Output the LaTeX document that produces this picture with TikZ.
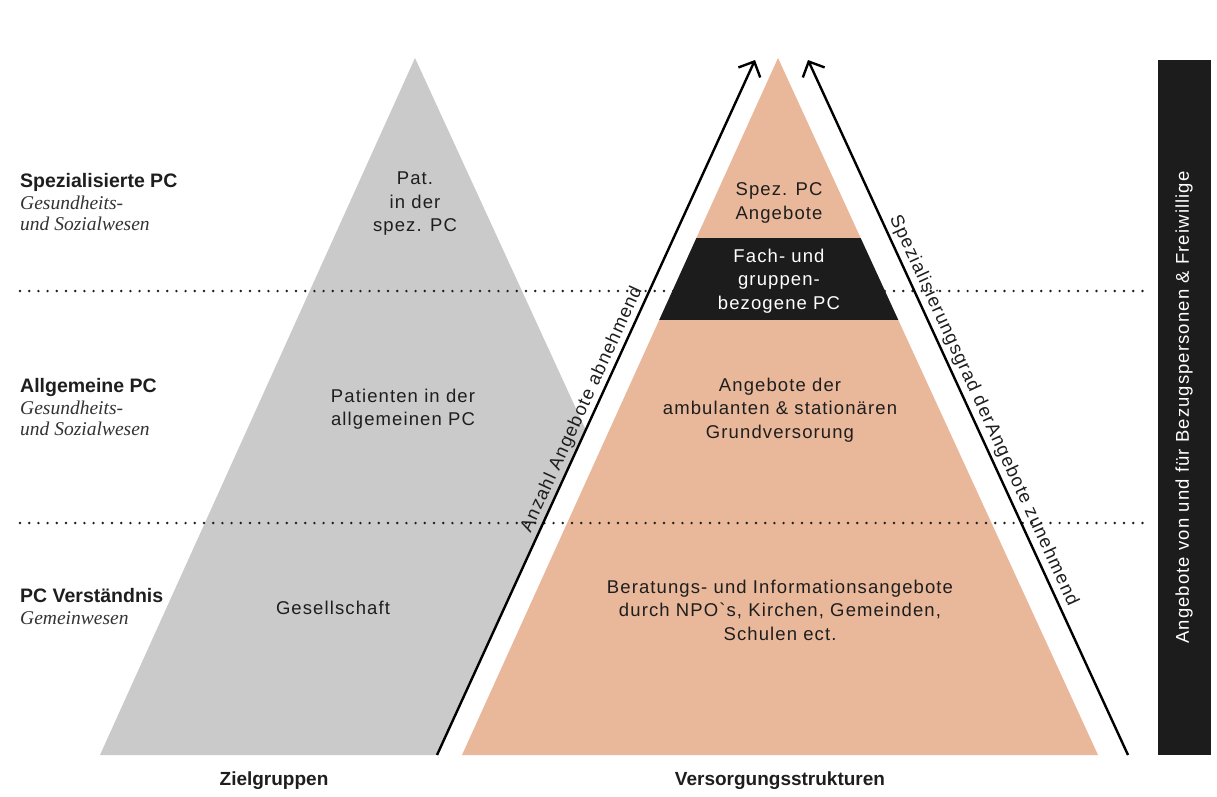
\documentclass[tikz,border=0pt]{standalone}
\usepackage{fontspec}
\setmainfont{Liberation Sans}
\newfontfamily\bodyfont[LetterSpace=6]{Liberation Sans}
\newfontfamily\labelfont{Liberation Sans}
\newfontfamily\serifit{Liberation Serif}
\usetikzlibrary{arrows.meta}
\definecolor{pyrgray}{HTML}{CACACA}
\definecolor{pyrorange}{HTML}{E9B89A}
\definecolor{bandblack}{HTML}{1C1C1C}
\definecolor{txt}{HTML}{1E1E1E}
\definecolor{ittxt}{HTML}{333333}
\tikzset{
  bodytext/.style={font=\bodyfont\fontsize{18.5}{23.5}\selectfont, align=center, inner sep=0pt, text=txt},
  bandtext/.style={bodytext, text=white},
  headlabel/.style={font=\labelfont\bfseries\fontsize{19.5}{22}\selectfont, anchor=base west, inner sep=0pt, text=txt},
  sublabel/.style={font=\serifit\itshape\fontsize{19.5}{21}\selectfont, anchor=base west, inner sep=0pt, text=ittxt},
  footlabel/.style={font=\labelfont\bfseries\fontsize{19}{22}\selectfont, anchor=base, inner sep=0pt, text=txt},
  dotline/.style={draw=txt, line width=2.7pt, line cap=round, dash pattern=on 0pt off 9.2pt},
  arrowline/.style={draw=black, line width=2.4pt, -{Straight Barb[length=12pt,width=24pt,line width=2.4pt]}},
  slopetext/.style={bodytext, sloped, above}
}
\begin{document}
\begin{tikzpicture}[x=1pt,y=-1pt]
\useasboundingbox (0,0) rectangle (1217,796);
\fill[white] (0,0) rectangle (1217,796);
% key points
\coordinate (gA) at (415,58);
\coordinate (gL) at (100,755);
\coordinate (gR) at (735,755);
\coordinate (aL1) at (437,755);
\coordinate (aL2) at (755,60);
\coordinate (aR1) at (1128,755);
\coordinate (aR2) at (808,60);
\coordinate (oA) at (778,58);
\coordinate (oL) at (462,755);
\coordinate (oR) at (1098,755);
\coordinate (gX) at (intersection of gA--gR and aL1--aL2);
% gray pyramid
\fill[pyrgray] (gL) -- (gA) -- (gX) -- (aL1) -- cycle;
% orange pyramid
\fill[pyrorange] (oL) -- (oA) -- (oR) -- cycle;
\begin{scope}
  \clip (oL) -- (oA) -- (oR) -- cycle;
  \fill[bandblack] (600,238) rectangle (960,320);
\end{scope}
% right bar
\node[fill=bandblack, minimum width=695pt, minimum height=53pt, rotate=90, inner sep=0pt,
      font=\bodyfont\fontsize{18.5}{20}\selectfont, text=white] (bar) at (1184,407.5)
      {Angebote von und für Bezugspersonen \& Freiwillige};
% dotted level lines
\draw[dotline] (20,291) -- (1150,291);
\draw[dotline] (20,523) -- (1150,523);
% arrows
\draw[arrowline] (aL1) -- (aL2);
\draw[arrowline] (aR1) -- (aR2);
\path (aL1) -- (aL2) node[slopetext, pos=0.49, inner sep=3pt] (tL) {Anzahl Angebote abnehmend};
\path (aR2) -- (aR1) node[slopetext, pos=0.512, inner sep=4pt] (tR) {Spezialisierungsgrad derAngebote zunehmend};
% left labels
\node[headlabel] (h1) at (20,187) {Spezialisierte PC};
\node[sublabel] (s1a) at (20,209) {Gesundheits-};
\node[sublabel] (s1b) at (20,230) {und Sozialwesen};
\node[headlabel] (h2) at (20,392) {Allgemeine PC};
\node[sublabel] (s2a) at (20,414) {Gesundheits-};
\node[sublabel] (s2b) at (20,435) {und Sozialwesen};
\node[headlabel] (h3) at (20,602) {PC Verständnis};
\node[sublabel] (s3a) at (20,624) {Gemeinwesen};
% gray pyramid texts
\node[bodytext] (g1) at (415,204) {Pat.\\in der\\spez. PC};
\node[bodytext] (g2) at (403,409) {Patienten in der\\allgemeinen PC};
\node[bodytext] (g3) at (333,608) {Gesellschaft};
% orange pyramid texts
\node[bodytext] (o1) at (779,203) {Spez. PC\\Angebote};
\node[bandtext] (o2) at (779,281) {Fach- und\\gruppen-\\bezogene PC};
\node[bodytext] (o3) at (780,410) {Angebote der\\ambulanten \& stationären\\Grundversorung};
\node[bodytext] (o4) at (780,610) {Beratungs- und Informationsangebote\\durch NPO{\char"60}s, Kirchen, Gemeinden,\\Schulen ect.};
% footer
\node[footlabel] (f1) at (274,785) {Zielgruppen};
\node[footlabel] (f2) at (780,785) {Versorgungsstrukturen};
\end{tikzpicture}
\end{document}
